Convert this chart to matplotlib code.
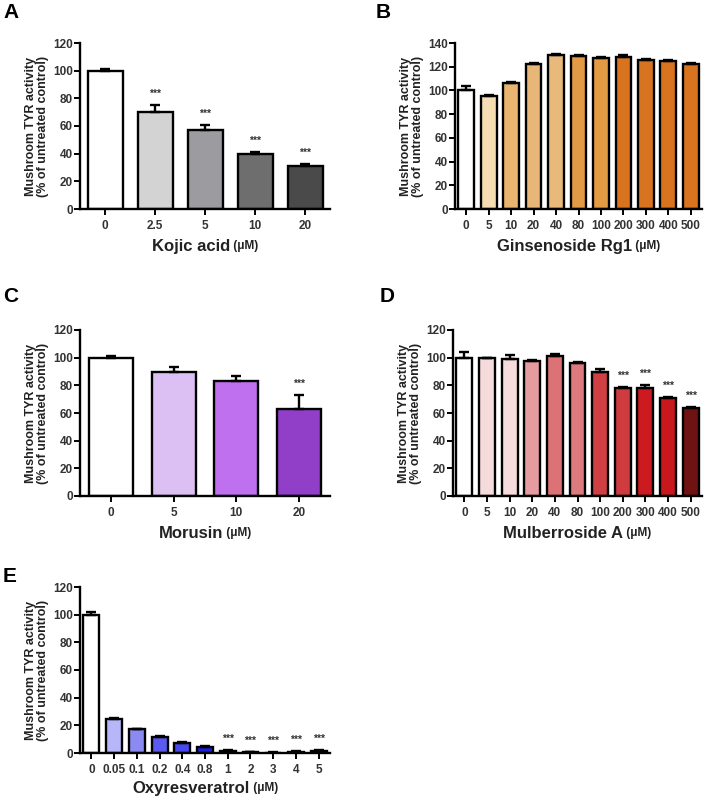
import matplotlib
matplotlib.use("Agg")
import matplotlib.pyplot as plt

plt.rcParams['font.family'] = ['Liberation Sans', 'DejaVu Sans']
plt.rcParams['font.weight'] = 'bold'

# Panel A
a_labels = ["0", "2.5", "5", "10", "20"]
a_values = [100, 70, 57, 40, 31]
a_errors = [1, 5, 4, 1, 1.5]
a_sig = [False, True, True, True, True]
a_colors = ["#ffffff", "#d3d3d3", "#9c9ca0", "#6e6e6e", "#4a4a4a"]

# Panel B
b_labels = ["0", "5", "10", "20", "40", "80", "100", "200", "300", "400", "500"]
b_values = [100, 95, 106, 122, 130, 129, 127, 128.5, 126, 124.5, 122]
b_errors = [3.5, 1.5, 1.2, 0.8, 0.8, 0.8, 0.8, 1.0, 0.8, 0.8, 0.8]
b_sig = [False] * 11
b_colors = ["#ffffff", "#f6dcb2", "#e8b470", "#e8b676", "#e8b97a", "#e39a45", "#e39a45",
            "#d8731f", "#d8731f", "#d8731f", "#d8731f"]

# Panel C
c_labels = ["0", "5", "10", "20"]
c_values = [100, 90, 83, 63]
c_errors = [1, 3, 4, 10]
c_sig = [False, False, False, True]
c_colors = ["#ffffff", "#dcc0f4", "#be70ef", "#913ec8"]

# Panel D
d_labels = ["0", "5", "10", "20", "40", "80", "100", "200", "300", "400", "500"]
d_values = [100, 99.5, 99, 97.5, 101, 96, 90, 78, 78, 70.5, 63.5]
d_errors = [4, 0.5, 3, 1, 2, 1, 1.5, 1, 2.5, 1, 0.5]
d_sig = [False, False, False, False, False, False, False, True, True, True, True]
d_colors = ["#ffffff", "#f6dbdd", "#f6dbdd", "#e59ca0", "#dc7276", "#dc7a7e", "#cf3f44",
            "#cf3c40", "#cc1a20", "#c8181e", "#6e1212"]

# Panel E
e_labels = ["0", "0.05", "0.1", "0.2", "0.4", "0.8", "1", "2", "3", "4", "5"]
e_values = [100, 24.5, 17, 11.5, 7.5, 4.5, 1.5, 0.5, 0.3, 0.8, 1.5]
e_errors = [2, 1, 0.5, 0.5, 0.5, 0.5, 0.5, 0.3, 0.3, 0.3, 0.8]
e_sig = [False, False, False, False, False, False, True, True, True, True, True]
e_colors = ["#ffffff", "#b6b6f8", "#8a8af2", "#5a5af0", "#4848ee", "#1e1ee0",
            "#14146e", "#14146e", "#14146e", "#14146e", "#14146e"]

fig = plt.figure(figsize=(7.05, 8.0), dpi=100)
renderer = fig.canvas.get_renderer()

ylabel = "Mushroom TYR activity\n(% of untreated control)"


def panel(rect, labels, values, errors, sig, colors, ymax, xname, letter, letter_pos,
          ticksize=8.5, xlab_y=-0.225):
    ax = fig.add_axes(rect)
    x = list(range(len(values)))
    lower = [0] * len(values)
    ax.bar(x, values, width=0.7, color=colors, edgecolor="black", linewidth=1.7,
           yerr=[lower, errors], error_kw=dict(ecolor="black", elinewidth=1.7,
                                               capsize=3.5, capthick=1.7), zorder=2)
    for xi, v, e, s in zip(x, values, errors, sig):
        if s:
            ax.text(xi, v + e + 4.5, "***", ha="center", va="bottom", fontsize=7.5,
                    fontweight="bold", color="#333333")
    ax.set_xlim(-0.5, len(values) - 0.5)
    ax.set_ylim(0, ymax)
    ax.set_yticks(range(0, ymax + 1, 20))
    ax.set_xticks(x)
    ax.set_xticklabels(labels)
    for s in ["top", "right"]:
        ax.spines[s].set_visible(False)
    ax.spines["left"].set_linewidth(1.7)
    ax.spines["bottom"].set_linewidth(1.7)
    ax.tick_params(axis="both", width=1.4, length=4, labelsize=ticksize, colors="black")
    ax.tick_params(axis="y", pad=1)
    ax.tick_params(axis="x", pad=4)
    for t in ax.get_xticklabels() + ax.get_yticklabels():
        t.set_fontweight("bold")
        t.set_color("#333333")
    ax.set_ylabel(ylabel, fontsize=9, fontweight="bold", labelpad=3, linespacing=1.05,
                  color="#222222")
    # x label: name large, unit small
    t1 = ax.text(0.5, xlab_y, xname, transform=ax.transAxes, fontsize=12,
                 fontweight="bold", ha="left", va="center", color="#222222")
    t2 = ax.annotate(" (μM)", xy=(1, 0.12), xycoords=t1, fontsize=8.5,
                     fontweight="bold", ha="left", va="bottom", color="#222222")
    w1 = t1.get_window_extent(renderer).width
    w2 = t2.get_window_extent(renderer).width
    axw = ax.get_window_extent(renderer).width
    t1.set_x(0.5 - (w1 + w2) / 2 / axw)
    fig.text(letter_pos[0], letter_pos[1], letter, fontsize=15, fontweight="bold",
             ha="left", va="top")
    return ax


H = 166 / 800
panel([80 / 705, 1 - 209 / 800, 250 / 705, H], a_labels, a_values, a_errors, a_sig,
      a_colors, 120, "Kojic acid", "A", (3 / 705, 1 - 3 / 800))
panel([455 / 705, 1 - 209 / 800, 247 / 705, H], b_labels, b_values, b_errors, b_sig,
      b_colors, 140, "Ginsenoside Rg1", "B", (376 / 705, 1 - 3 / 800))
panel([80 / 705, 1 - 496 / 800, 250 / 705, H], c_labels, c_values, c_errors, c_sig,
      c_colors, 120, "Morusin", "C", (3 / 705, 1 - 287 / 800))
panel([453 / 705, 1 - 496 / 800, 249 / 705, H], d_labels, d_values, d_errors, d_sig,
      d_colors, 120, "Mulberroside A", "D", (380 / 705, 1 - 287 / 800))
panel([80 / 705, 1 - 753 / 800, 250 / 705, H], e_labels, e_values, e_errors, e_sig,
      e_colors, 120, "Oxyresveratrol", "E", (3 / 705, 1 - 567 / 800), xlab_y=-0.215)

fig.savefig("out.png", dpi=100)
